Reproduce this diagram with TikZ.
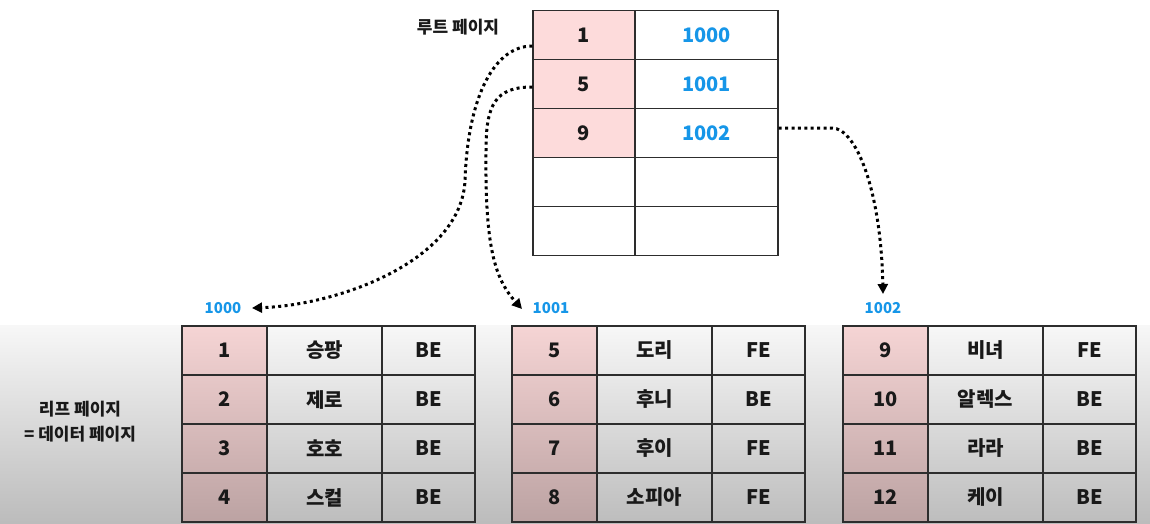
\documentclass[tikz,border=0pt]{standalone}
\usepackage{fontspec}
\setmainfont{Noto Sans CJK KR}
\usetikzlibrary{arrows.meta}
\definecolor{pinkbase}{RGB}{253,219,219}
\definecolor{bluetxt}{RGB}{22,150,232}
\definecolor{linec}{RGB}{45,45,45}
\definecolor{txt}{RGB}{25,25,25}
\begin{document}
\begin{tikzpicture}[x=1pt,y=-1pt,
  rcell/.style={draw=linec, line width=1.4pt, minimum height=49pt, inner sep=0pt,
    text=txt, font=\bfseries\fontsize{20}{24}\selectfont},
  lcell/.style={draw=linec, line width=1.4pt, minimum height=49pt, inner sep=0pt,
    text=txt, font=\bfseries\fontsize{20}{24}\selectfont},
  addr/.style={inner sep=0pt, text=bluetxt, font=\bfseries\fontsize{15}{18}\selectfont},
  caption/.style={inner sep=0pt, text=txt, align=center, font=\bfseries\fontsize{17}{25}\selectfont},
  ptr/.style={draw=black, line width=3pt, dash pattern=on 3pt off 3.4pt,
    -{Triangle[length=10pt,width=10pt]}}
]
\useasboundingbox (0,0) rectangle (1150,524);
% bottom background gradient
\shade[top color=white!97!black, bottom color=white!73.5!black, draw=none] (0,325) rectangle (1150,524);

% root page
\node[caption] (rootlbl) at (458,27) {루트 페이지};
\node[rcell, fill=pinkbase, minimum width=102pt] (rk1) at (584,35) {1};
\node[rcell, minimum width=143pt] (rv1) at (706.5,35) {\color{bluetxt}1000};
\node[rcell, fill=pinkbase, minimum width=102pt] (rk2) at (584,84) {5};
\node[rcell, minimum width=143pt] (rv2) at (706.5,84) {\color{bluetxt}1001};
\node[rcell, fill=pinkbase, minimum width=102pt] (rk3) at (584,133) {9};
\node[rcell, minimum width=143pt] (rv3) at (706.5,133) {\color{bluetxt}1002};
\node[rcell, minimum width=102pt] (rk4) at (584,182) {};
\node[rcell, minimum width=143pt] (rv4) at (706.5,182) {};
\node[rcell, minimum width=102pt] (rk5) at (584,231) {};
\node[rcell, minimum width=143pt] (rv5) at (706.5,231) {};

% leaf page labels
\node[addr] (l1000) at (223,308) {1000};
\node[addr] (l1001) at (551,308) {1001};
\node[addr] (l1002) at (883,308) {1002};
\node[caption] (leaflbl) at (80,422) {리프 페이지\\= 데이터 페이지};

% leaf pages
\foreach \t/\x/\r/\k/\n/\e in {
  1/182/1/1/승팡/BE, 1/182/2/2/제로/BE, 1/182/3/3/호호/BE, 1/182/4/4/스컬/BE,
  2/512/1/5/도리/FE, 2/512/2/6/후니/BE, 2/512/3/7/후이/FE, 2/512/4/8/소피아/FE,
  3/843/1/9/비녀/FE, 3/843/2/10/알렉스/BE, 3/843/3/11/라라/BE, 3/843/4/12/케이/BE} {
  \pgfmathsetmacro\ft{96.9-5.68*(\r-1)}
  \pgfmathsetmacro\fb{\ft-5.68}
  \pgfmathsetmacro\yc{326+49*(\r-1)+24.5}
  \node[lcell, minimum width=85pt, top color=pinkbase!\ft!black, bottom color=pinkbase!\fb!black]
    (t\t k\r) at (\x+42.5,\yc) {\k};
  \node[lcell, minimum width=115pt, top color=white!\ft!black, bottom color=white!\fb!black]
    (t\t n\r) at (\x+142.5,\yc) {\n};
  \node[lcell, minimum width=93pt, top color=white!\ft!black, bottom color=white!\fb!black]
    (t\t e\r) at (\x+246.5,\yc) {\e};
}

% pointers
\coordinate (e1) at (252,308);
\coordinate (e2) at (522,309);
\coordinate (e3) at (883,294);
\draw[ptr] ([yshift=-11pt]rk1.west) .. controls (495,46) and (468,95) .. (465,180)
  .. controls (462,260) and (340,305) .. (e1);
\draw[ptr] ([yshift=-3pt]rk2.west) .. controls (495,87) and (486,105) .. (486,150)
  .. controls (485,245) and (494,278) .. (e2);
\draw[ptr] ([yshift=5pt]rv3.east) -- (832,128) .. controls (856,128) and (881,190) .. (e3);
\end{tikzpicture}
\end{document}
